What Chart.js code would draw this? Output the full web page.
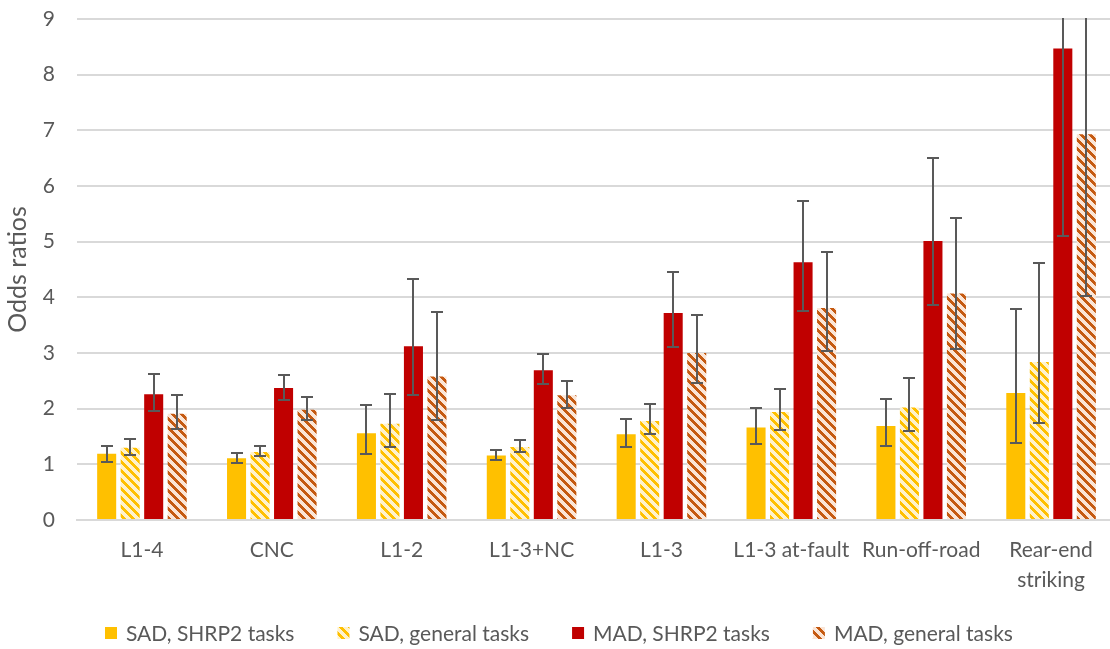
<!DOCTYPE html>
<html>
<head>
<meta charset="utf-8">
<script src="https://cdn.jsdelivr.net/npm/chart.js@4/dist/chart.umd.min.js"></script>
<style>
  html, body { margin: 0; background: #fff; overflow: hidden; }
  #wrap { width: 1117px; height: 649px; }
</style>
</head>
<body>
<div id="wrap"><canvas id="barChart"></canvas></div>
<script>
const categories = ["L1-4", "CNC", "L1-2", "L1-3+NC", "L1-3", "L1-3 at-fault", "Run-off-road", ["Rear-end", "striking"]];

const sadShrp2 = [1.19, 1.11, 1.56, 1.16, 1.54, 1.66, 1.69, 2.28];
const sadShrp2Low = [1.05, 1.02, 1.18, 1.08, 1.32, 1.37, 1.33, 1.38];
const sadShrp2High = [1.33, 1.20, 2.07, 1.26, 1.81, 2.02, 2.17, 3.79];

const sadGeneral = [1.30, 1.22, 1.73, 1.31, 1.78, 1.94, 2.02, 2.84];
const sadGeneralLow = [1.16, 1.15, 1.32, 1.23, 1.55, 1.62, 1.60, 1.75];
const sadGeneralHigh = [1.46, 1.33, 2.27, 1.43, 2.08, 2.35, 2.55, 4.62];

const madShrp2 = [2.26, 2.37, 3.12, 2.69, 3.72, 4.63, 5.01, 8.47];
const madShrp2Low = [1.96, 2.16, 2.25, 2.45, 3.10, 3.75, 3.86, 5.10];
const madShrp2High = [2.62, 2.60, 4.33, 2.98, 4.45, 5.73, 6.50, 11.5];

const madGeneral = [1.91, 1.98, 2.58, 2.24, 3.00, 3.81, 4.07, 6.93];
const madGeneralLow = [1.63, 1.79, 1.80, 2.01, 2.47, 3.03, 3.07, 4.03];
const madGeneralHigh = [2.25, 2.21, 3.73, 2.50, 3.68, 4.81, 5.42, 10.5];

const yTicks = [0, 1, 2, 3, 4, 5, 6, 7, 8, 9];

const font = "Lato, 'Open Sans', sans-serif";
const textColor = "#595959";

// striped fill like Excel's "wide downward diagonal"
function stripes(bg, fg) {
    const size = 9;
    const c = document.createElement("canvas");
    c.width = size;
    c.height = size;
    const g = c.getContext("2d");
    g.fillStyle = bg;
    g.fillRect(0, 0, size, size);
    g.fillStyle = fg;
    for (let y = 0; y < size; y++) {
        for (let x = 0; x < size; x++) {
            if (((x - y) % size + size) % size < 4) g.fillRect(x, y, 1, 1);
        }
    }
    return g.createPattern(c, "repeat");
}

const errorBars = {
    id: "errorBars",
    afterDatasetsDraw(chart) {
        const ctx = chart.ctx;
        const area = chart.chartArea;
        const yScale = chart.scales.y;
        ctx.save();
        ctx.beginPath();
        ctx.rect(area.left, area.top - 1, area.right - area.left, area.bottom - area.top + 2);
        ctx.clip();
        ctx.strokeStyle = "#595959";
        ctx.lineWidth = 2;
        chart.data.datasets.forEach((ds, i) => {
            const meta = chart.getDatasetMeta(i);
            meta.data.forEach((bar, j) => {
                const lo = Math.round(yScale.getPixelForValue(ds.low[j]));
                const hi = Math.round(yScale.getPixelForValue(ds.high[j]));
                const x = Math.round(bar.x);
                ctx.beginPath();
                ctx.moveTo(x, lo);
                ctx.lineTo(x, hi);
                ctx.moveTo(x - 6, lo);
                ctx.lineTo(x + 6, lo);
                ctx.moveTo(x - 6, hi);
                ctx.lineTo(x + 6, hi);
                ctx.stroke();
            });
        });
        ctx.restore();
    }
};

// legend drawn by hand so the spacing can match the original
const bottomLegend = {
    id: "bottomLegend",
    afterDraw(chart) {
        const ctx = chart.ctx;
        const box = 12, gap = 9, spacing = 43, y = 633;
        ctx.save();
        ctx.font = "21px " + font;
        ctx.textBaseline = "middle";
        ctx.textAlign = "left";
        const items = chart.data.datasets.map(ds => ({ ds: ds, w: ctx.measureText(ds.label).width }));
        const total = items.reduce((s, it) => s + box + gap + it.w, 0) + spacing * (items.length - 1);
        let x = Math.round(chart.width / 2 - total / 2);
        items.forEach(it => {
            ctx.fillStyle = it.ds.backgroundColor;
            ctx.fillRect(x, y - box / 2, box, box);
            ctx.fillStyle = textColor;
            ctx.fillText(it.ds.label, x + box + gap, y + 1);
            x += box + gap + it.w + spacing;
        });
        ctx.restore();
    }
};

function drawBarChart() {
    "use strict";
    let ctx = document.getElementById("barChart");
    let barChart = new Chart(ctx, {
        type: "bar",
        data: {
            labels: categories,
            datasets: [{
                label: "SAD, SHRP2 tasks",
                backgroundColor: "#FFC000",
                data: sadShrp2, low: sadShrp2Low, high: sadShrp2High
            }, {
                label: "SAD, general tasks",
                backgroundColor: stripes("#FFF2CC", "#FFC000"),
                data: sadGeneral, low: sadGeneralLow, high: sadGeneralHigh
            }, {
                label: "MAD, SHRP2 tasks",
                backgroundColor: "#C00000",
                data: madShrp2, low: madShrp2Low, high: madShrp2High
            }, {
                label: "MAD, general tasks",
                backgroundColor: stripes("#FBE5D6", "#C55A11"),
                data: madGeneral, low: madGeneralLow, high: madGeneralHigh
            }]
        },
        options: {
            responsive: true,
            maintainAspectRatio: false,
            animation: false,
            datasets: {
                bar: { categoryPercentage: 0.724, barPercentage: 0.81 }
            },
            layout: { padding: { top: 0, right: 1, left: 0, bottom: 54 } },
            plugins: {
                tooltip: { enabled: false },
                legend: { display: false }
            },
            scales: {
                x: {
                    grid: { display: false, drawTicks: false },
                    border: { color: "#D9D9D9", width: 2 },
                    afterFit: (axis) => { axis.height = 75; },
                    ticks: {
                        color: textColor,
                        padding: 15,
                        maxRotation: 0,
                        autoSkip: false,
                        font: { family: font, size: 21, lineHeight: 1.43 }
                    }
                },
                y: {
                    min: 0,
                    max: 9,
                    afterBuildTicks: (axis) => { axis.ticks = yTicks.map(v => ({ value: v })); },
                    afterFit: (axis) => { axis.width = 77; axis.paddingTop = 19; },
                    grid: { color: "#D9D9D9", lineWidth: 2, drawTicks: false },
                    border: { display: false },
                    ticks: {
                        color: textColor,
                        padding: 22,
                        font: { family: font, size: 21 }
                    },
                    title: {
                        display: true,
                        text: "Odds ratios",
                        color: textColor,
                        padding: { top: 3, bottom: 0 },
                        font: { family: font, size: 25 }
                    }
                }
            }
        },
        plugins: [errorBars, bottomLegend]
    });
}
drawBarChart();
</script>
</body>
</html>
